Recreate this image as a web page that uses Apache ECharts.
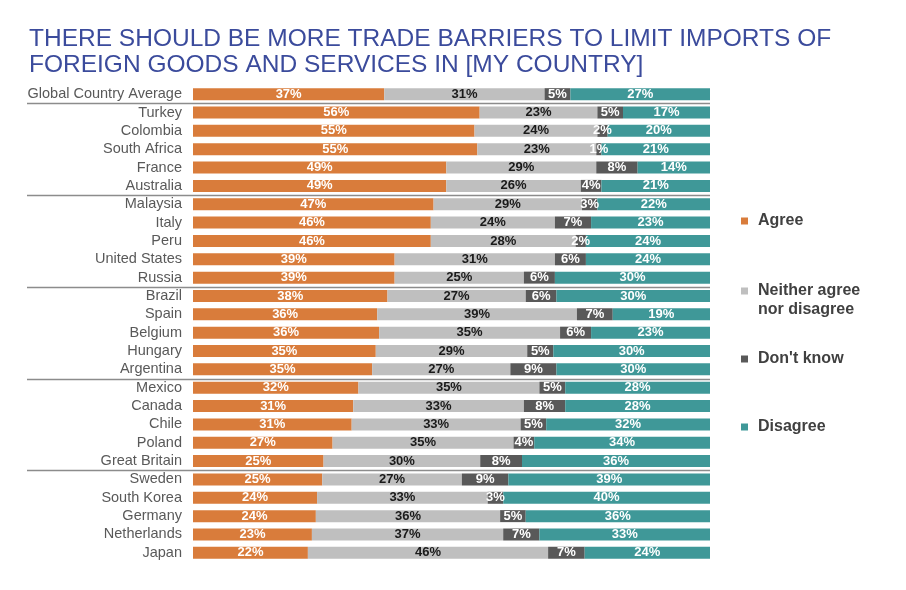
<!DOCTYPE html>
<html>
<head>
<meta charset="utf-8">
<script src="https://cdn.jsdelivr.net/npm/echarts@6/dist/echarts.min.js"></script>
<style>
html,body{margin:0;padding:0;background:#fff;}
#main{width:906px;height:590px;}
</style>
</head>
<body>
<div id="main"></div>
<script>
const categories = ["Global Country Average","Turkey","Colombia","South Africa","France","Australia","Malaysia","Italy","Peru","United States","Russia","Brazil","Spain","Belgium","Hungary","Argentina","Mexico","Canada","Chile","Poland","Great Britain","Sweden","South Korea","Germany","Netherlands","Japan"];
const agree    = [37,56,55,55,49,49,47,46,46,39,39,38,36,36,35,35,32,31,31,27,25,25,24,24,23,22];
const neither  = [31,23,24,23,29,26,29,24,28,31,25,27,39,35,29,27,35,33,33,35,30,27,33,36,37,46];
const dontKnow = [5,5,2,1,8,4,3,7,2,6,6,6,7,6,5,9,5,8,5,4,8,9,3,5,7,7];
const disagree = [27,17,20,21,14,21,22,23,24,24,30,30,19,23,30,30,28,28,32,34,36,39,40,36,33,24];
const seriesNames = ["Agree","Neither agree\nnor disagree","Don't know","Disagree"];
const groupStarts = [1,6,11,16,21];

const colors = ["#D97C3B","#BFBFBF","#595959","#3F9898"];
const labelColors = ["#ffffff","#1a1a1a","#ffffff","#ffffff"];
const raw = [agree, neither, dontKnow, disagree];
const sums = categories.map((c,i)=>raw.reduce((s,a)=>s+a[i],0));
const FONT = 'Arial, "Liberation Sans", sans-serif';

const chart = echarts.init(document.getElementById('main'));
const series = raw.map((arr,k)=>({
  name: seriesNames[k],
  type:'bar',
  stack:'total',
  barWidth:12,
  itemStyle:{color:colors[k]},
  label:{
    show:true, position:'inside',
    formatter:(p)=>arr[p.dataIndex]+'%',
    color:labelColors[k],
    fontFamily:FONT,
    fontWeight:'bold', fontSize:13
  },
  emphasis:{disabled:true},
  data: arr.map((v,i)=>v/sums[i]*100)
}));

const legendTops = [211.5, 281.5, 349.5, 417.5];
const legends = seriesNames.map((n,k)=>({
  data:[{name:n, icon: k===1 ? 'path://M0,6h7v7h-7z M0,0 M0,38' : 'rect'}],
  orient:'vertical',
  left:741, top:legendTops[k], padding:0,
  itemWidth:7, itemHeight: k===1 ? 38 : 7, itemGap:8,
  selectedMode:false,
  textStyle:{fontFamily:FONT, fontSize:16, fontWeight:'bold', color:'#404040', lineHeight:19, padding:[0,0,0,5]}
}));

chart.setOption({
  animation:false,
  title:{
    text:'THERE SHOULD BE MORE TRADE BARRIERS TO LIMIT IMPORTS OF\nFOREIGN GOODS AND SERVICES IN [MY COUNTRY]',
    left:24, top:21,
    textStyle:{fontFamily:FONT, fontSize:24.5, fontWeight:'normal', color:'#3B4B9C', lineHeight:26}
  },
  legend: legends,
  grid:{left:193, right:196, top:85, bottom:28, containLabel:false},
  xAxis:{type:'value', min:0, max:100, show:false},
  yAxis:{
    type:'category', data:categories, inverse:true,
    axisLine:{show:false}, axisTick:{show:false},
    axisLabel:{interval:0, fontFamily:FONT, fontSize:14.5, color:'#595959', margin:11, padding:[2,0,0,0]}
  },
  series: series
});

// separator lines between groups, positioned via the axis scale
const lines = groupStarts.map(i=>{
  const y = (chart.convertToPixel({yAxisIndex:0}, categories[i-1]) + chart.convertToPixel({yAxisIndex:0}, categories[i]))/2;
  const xr = chart.convertToPixel({xAxisIndex:0}, 100);
  return {type:'line', shape:{x1:27, y1:Math.round(y)+0.5, x2:xr, y2:Math.round(y)+0.5}, style:{stroke:'#8C8C8C', lineWidth:1.5}, z:10};
});
chart.setOption({graphic:lines});
</script>
</body>
</html>
